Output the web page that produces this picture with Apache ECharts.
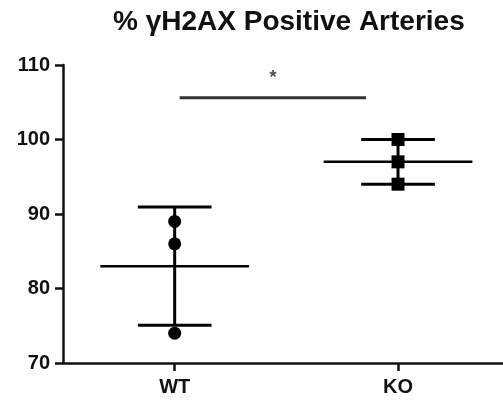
<!DOCTYPE html>
<html><head><meta charset="utf-8">
<script src="https://cdn.jsdelivr.net/npm/echarts@6/dist/echarts.min.js"></script>
<style>html,body{margin:0;padding:0;background:#fff}#c{width:503px;height:400px}</style>
</head><body><div id="c"></div>
<script>
var categories = ['WT', 'KO'];
var wtValues = [89, 86, 74];
var koValues = [100, 97, 94];
var yTicks = [70, 80, 90, 100, 110];
var sigLevel = 105.6;
var sigLabel = '*';

function mean(a){return a.reduce(function(s,v){return s+v;},0)/a.length;}
function sd(a){var m=mean(a);return Math.sqrt(a.reduce(function(s,v){return s+(v-m)*(v-m);},0)/(a.length-1));}

var groups = [wtValues, koValues];
var symbols = ['circle', 'rect'];
var series = [];
var capHalf = 0.165, meanHalf = 0.333;
groups.forEach(function(vals, i){
  var m = mean(vals), s = sd(vals);
  var lo = m - s, hi = m + s;
  series.push({type:'line', data:[[i,lo],[i,hi]], symbol:'none', lineStyle:{color:'#000', width:3}, silent:true, z:2});
  series.push({type:'line', data:[[i-capHalf,hi],[i+capHalf,hi]], symbol:'none', lineStyle:{color:'#000', width:3}, silent:true, z:2});
  series.push({type:'line', data:[[i-capHalf,lo],[i+capHalf,lo]], symbol:'none', lineStyle:{color:'#000', width:3}, silent:true, z:2});
  series.push({type:'line', data:[[i-meanHalf,m],[i+meanHalf,m]], symbol:'none', lineStyle:{color:'#000', width:2.5}, silent:true, z:2});
  series.push({type:'scatter', data:vals.map(function(v){return [i,v];}), symbol:symbols[i], symbolSize:13, itemStyle:{color:'#000', opacity:1}, z:3});
});
series.push({type:'line', data:[[0.022,sigLevel],[0.857,sigLevel]], symbol:'none', lineStyle:{color:'#333', width:3}, silent:true});
series.push({type:'scatter', data:[[0.44, sigLevel]], symbol:'circle', symbolSize:1, itemStyle:{color:'rgba(0,0,0,0)'},
  label:{show:true, formatter:sigLabel, position:'top', distance:10, fontSize:18, fontWeight:'bold', color:'#222', fontFamily:'Liberation Sans'}});

var chart = echarts.init(document.getElementById('c'));
chart.setOption({
  animation:false,
  backgroundColor:'#fff',
  title:{text:'% γH2AX Positive Arteries', left:108, top:3,
    textStyle:{fontSize:28, fontWeight:'bold', color:'#111', fontFamily:'Liberation Sans'}},
  grid:{left:63, right:0, top:65, bottom:37},
  xAxis:{type:'value', min:-0.5, max:1.47, interval:0.5,
    axisLine:{show:true, onZero:false, lineStyle:{color:'#111', width:2.5}},
    axisTick:{show:true, inside:false, length:8, lineStyle:{color:'#111', width:2.5},
      customValues:[0,1]},
    axisLabel:{show:true, customValues:[0,1], margin:14, fontSize:20, fontWeight:'bold', color:'#111', fontFamily:'Liberation Sans',
      formatter:function(v){return categories[Math.round(v)];}},
    splitLine:{show:false}},
  yAxis:{type:'value', min:yTicks[0], max:yTicks[yTicks.length-1], interval:10,
    axisLine:{show:true, onZero:false, lineStyle:{color:'#111', width:2.5}},
    axisTick:{show:true, length:8, lineStyle:{color:'#111', width:2.5}},
    axisLabel:{margin:13, fontSize:20, fontWeight:'bold', color:'#111', fontFamily:'Liberation Sans'},
    splitLine:{show:false}},
  series:series
});
</script></body></html>
